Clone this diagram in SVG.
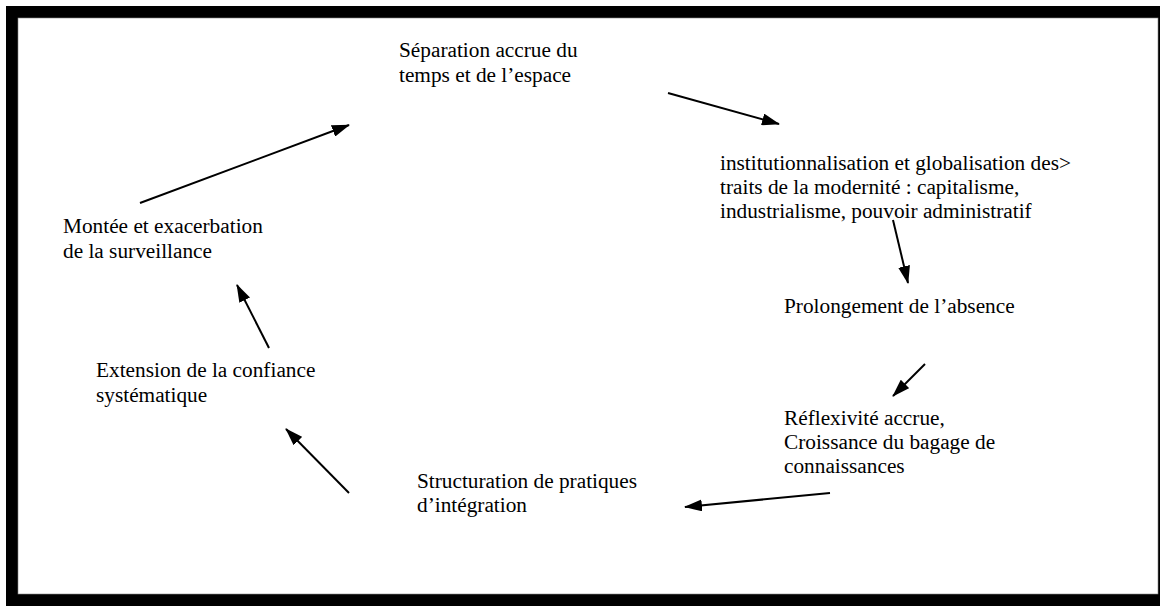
<svg xmlns="http://www.w3.org/2000/svg" width="1160" height="606" viewBox="0 0 1160 606">
  <style>
    .lbl { font-family: "Liberation Serif", "Times New Roman", serif; font-size: 21.3px; fill: #000; }
    .conn { stroke: #000; stroke-width: 2; fill: none; marker-end: url(#head); }
  </style>
  <defs>
    <marker id="head" viewBox="0 0 18 12" refX="17" refY="6" markerWidth="18" markerHeight="12" markerUnits="userSpaceOnUse" orient="auto">
      <path d="M0,0 L18,6 L0,12 Z" fill="#000"/>
    </marker>
  </defs>

  <!-- text-box frame: heavy black rule on top, left and bottom, thin on the right -->
  <rect x="0" y="0" width="1160" height="606" fill="#fff"/>
  <rect x="6" y="6" width="1154" height="600" fill="#000"/>
  <rect x="18" y="18" width="1140" height="576" fill="#fff" stroke="#888" stroke-width="0.6"/>

  <g id="node-separation">
    <text class="lbl" x="399" y="57">Séparation accrue du</text>
    <text class="lbl" x="399" y="82">temps et de l’espace</text>
  </g>
  <g id="node-institutionnalisation">
    <text class="lbl" x="720" y="170">institutionnalisation et globalisation des&gt;</text>
    <text class="lbl" x="720" y="194">traits de la modernité : capitalisme,</text>
    <text class="lbl" x="720" y="218">industrialisme, pouvoir administratif</text>
  </g>
  <g id="node-prolongement">
    <text class="lbl" x="784" y="313">Prolongement de l’absence</text>
  </g>
  <g id="node-reflexivite">
    <text class="lbl" x="784" y="425">Réflexivité accrue,</text>
    <text class="lbl" x="784" y="449">Croissance du bagage de</text>
    <text class="lbl" x="784" y="473">connaissances</text>
  </g>
  <g id="node-structuration">
    <text class="lbl" x="417" y="488">Structuration de pratiques</text>
    <text class="lbl" x="417" y="512">d’intégration</text>
  </g>
  <g id="node-extension">
    <text class="lbl" x="96" y="377">Extension de la confiance</text>
    <text class="lbl" x="96" y="402">systématique</text>
  </g>
  <g id="node-surveillance">
    <text class="lbl" x="63" y="233">Montée et exacerbation</text>
    <text class="lbl" x="63" y="258">de la surveillance</text>
  </g>

  <g id="connectors">
    <line class="conn" x1="668" y1="93" x2="779" y2="124"/>
    <line class="conn" x1="893" y1="220" x2="908" y2="283"/>
    <line class="conn" x1="925" y1="364" x2="893" y2="396"/>
    <line class="conn" x1="830" y1="493" x2="685" y2="507"/>
    <line class="conn" x1="349" y1="493" x2="286" y2="429"/>
    <line class="conn" x1="269" y1="348" x2="237" y2="285"/>
    <line class="conn" x1="140" y1="203" x2="349" y2="125"/>
  </g>
</svg>
